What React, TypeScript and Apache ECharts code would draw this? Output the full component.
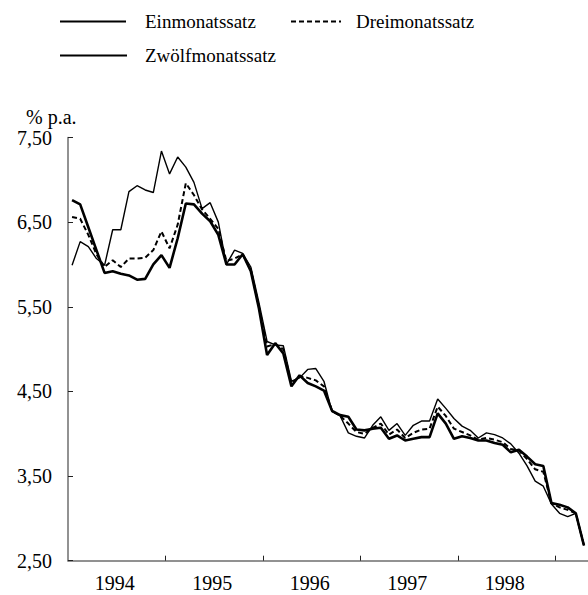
import React, { useEffect, useRef } from 'react';
import * as echarts from 'echarts';

const years = ['1994', '1995', '1996', '1997', '1998', '1999'];
const months = ['01', '02', '03', '04', '05', '06', '07', '08', '09', '10', '11', '12'];
const monthCount = 64;
const categories: string[] = [];
for (const y of years) for (const m of months) if (categories.length < monthCount) categories.push(`${y}-${m}`);

const einmonatssatz = [
  6.76, 6.71, 6.44, 6.17, 5.90, 5.92, 5.89, 5.87, 5.82, 5.83, 6.00, 6.11,
  5.96, 6.31, 6.72, 6.71, 6.60, 6.51, 6.35, 6.00, 6.00, 6.12, 5.92, 5.48,
  4.93, 5.07, 4.95, 4.56, 4.69, 4.60, 4.56, 4.51, 4.27, 4.22, 4.20, 4.05,
  4.04, 4.06, 4.07, 3.94, 3.98, 3.92, 3.94, 3.96, 3.96, 4.24, 4.12, 3.94,
  3.97, 3.95, 3.92, 3.92, 3.89, 3.87, 3.78, 3.81, 3.73, 3.64, 3.62, 3.18,
  3.16, 3.13, 3.06, 2.68,
];
const dreimonatssatz = [
  6.56, 6.54, 6.35, 6.12, 5.97, 6.05, 5.97, 6.07, 6.07, 6.08, 6.17, 6.39,
  6.19, 6.47, 6.96, 6.82, 6.65, 6.54, 6.42, 6.04, 6.07, 6.12, 5.94, 5.50,
  5.03, 5.06, 5.00, 4.59, 4.68, 4.66, 4.63, 4.56, 4.27, 4.21, 4.12, 4.02,
  4.00, 4.07, 4.12, 3.99, 4.05, 3.95, 4.01, 4.05, 4.06, 4.32, 4.21, 4.06,
  4.02, 3.98, 3.93, 3.95, 3.93, 3.90, 3.82, 3.80, 3.70, 3.58, 3.55, 3.18,
  3.13, 3.10, 3.06, 2.68,
];
const zwoelfmonatssatz = [
  5.99, 6.27, 6.21, 6.07, 5.99, 6.41, 6.41, 6.86, 6.93, 6.88, 6.85, 7.34,
  7.07, 7.27, 7.15, 6.97, 6.66, 6.73, 6.50, 6.00, 6.17, 6.13, 5.97, 5.55,
  5.09, 5.05, 5.04, 4.62, 4.66, 4.76, 4.77, 4.62, 4.26, 4.21, 4.01, 3.97,
  3.95, 4.10, 4.20, 4.04, 4.12, 3.98, 4.10, 4.15, 4.15, 4.41, 4.30, 4.18,
  4.09, 4.04, 3.95, 4.01, 3.99, 3.95, 3.88, 3.77, 3.62, 3.44, 3.38, 3.17,
  3.06, 3.02, 3.06, 2.68,
];
const seriesNames = ['Einmonatssatz', 'Dreimonatssatz', 'Zwölfmonatssatz'];
const yTicks = { min: 2.5, max: 7.5, step: 1 };
const unitLabel = '% p.a.';

const FONT = '"Liberation Serif", "Times New Roman", serif';

export default function App() {
  const ref = useRef<HTMLDivElement>(null);
  useEffect(() => {
    const chart = echarts.init(ref.current!, null, { renderer: 'svg' });
    const legendText = (pad: number) => ({
      fontFamily: FONT,
      fontSize: 19,
      color: '#000',
      padding: [0, 0, 0, pad],
    });
    const legendBase = {
      padding: 0, itemHeight: 14, selectedMode: false,
      itemStyle: { opacity: 0 },
    };
    chart.setOption({
      animation: false,
      backgroundColor: '#fff',
      grid: { left: 68, right: 0, top: 137.5, bottom: 34.3, containLabel: false },
      legend: [
        { ...legendBase, data: [seriesNames[0]], left: 59, top: 12, itemWidth: 66, textStyle: legendText(14) },
        { ...legendBase, data: [seriesNames[1]], left: 290, top: 12, itemWidth: 50, textStyle: legendText(10) },
        { ...legendBase, data: [seriesNames[2]], left: 59, top: 46, itemWidth: 67, textStyle: legendText(13) },
      ],
      graphic: [
        {
          type: 'text', left: 26, top: 107,
          style: { text: unitLabel, font: `20px ${FONT}`, fill: '#000' },
        },
      ],
      xAxis: {
        type: 'category',
        data: categories,
        boundaryGap: true,
        axisLine: { show: true, lineStyle: { color: '#6e6e6e', width: 1.5 } },
        axisTick: {
          show: true, inside: true, length: 5,
          interval: (i: number) => i > 0 && i % 12 === 0,
          lineStyle: { color: '#222', width: 1 },
        },
        axisLabel: {
          interval: (i: number) => i % 12 === 6,
          formatter: (v: string) => v.slice(0, 4),
          fontFamily: FONT, fontSize: 20, color: '#000', margin: 12,
          padding: [0, 12, 0, 0],
        },
        splitLine: { show: false },
      },
      yAxis: {
        type: 'value',
        min: yTicks.min, max: yTicks.max, interval: yTicks.step,
        axisLine: { show: true, lineStyle: { color: '#6e6e6e', width: 1.5 } },
        axisTick: { show: true, inside: true, length: 5, lineStyle: { color: '#222', width: 1 } },
        splitLine: { show: false },
        axisLabel: {
          formatter: (v: number) => v.toFixed(2).replace('.', ','),
          fontFamily: FONT, fontSize: 20, color: '#000', margin: 16,
        },
      },
      series: [
        {
          name: seriesNames[0], type: 'line', data: einmonatssatz, symbol: 'none',
          lineStyle: { color: '#000', width: 2.6 }, itemStyle: { color: '#000' },
        },
        {
          name: seriesNames[1], type: 'line', data: dreimonatssatz, symbol: 'none',
          lineStyle: { color: '#000', width: 2, type: [5, 3] }, itemStyle: { color: '#000' },
        },
        {
          name: seriesNames[2], type: 'line', data: zwoelfmonatssatz, symbol: 'none',
          lineStyle: { color: '#000', width: 1.4 }, itemStyle: { color: '#000' },
        },
      ],
    });
    return () => chart.dispose();
  }, []);
  return <div ref={ref} style={{ position: 'absolute', left: 0, top: 0, width: 588, height: 595 }} />;
}
